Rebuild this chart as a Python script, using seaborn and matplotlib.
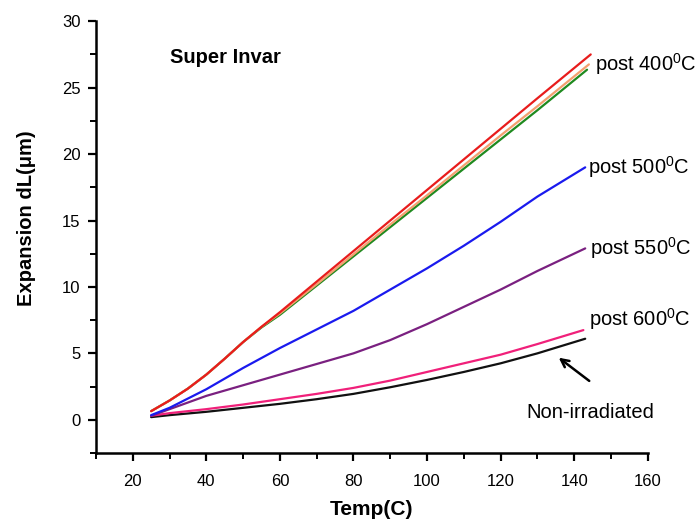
import numpy as np
import pandas as pd
import matplotlib
matplotlib.use("Agg")
import matplotlib.pyplot as plt
import seaborn as sns
from matplotlib.ticker import MultipleLocator

sns.set_style("white")
plt.rcParams['font.family'] = ['Liberation Sans', 'DejaVu Sans']
plt.rcParams['mathtext.fontset'] = 'custom'
plt.rcParams['mathtext.rm'] = 'Liberation Sans'
plt.rcParams['text.color'] = 'black'
plt.rcParams['axes.labelcolor'] = 'black'
plt.rcParams['xtick.color'] = 'black'
plt.rcParams['ytick.color'] = 'black'

# ---- data ----
x_non = [25, 30, 40, 50, 60, 70, 80, 90, 100, 110, 120, 130, 143]
y_non = [0.2, 0.35, 0.6, 0.9, 1.2, 1.55, 1.95, 2.45, 3.0, 3.6, 4.25, 5.0, 6.1]

x_600 = [25, 30, 40, 50, 60, 70, 80, 90, 100, 110, 120, 130, 142.5]
y_600 = [0.3, 0.5, 0.8, 1.15, 1.55, 1.95, 2.4, 2.95, 3.6, 4.25, 4.9, 5.7, 6.75]

x_550 = [25, 30, 40, 50, 60, 70, 80, 90, 100, 110, 120, 130, 143]
y_550 = [0.3, 0.8, 1.8, 2.6, 3.4, 4.2, 5.0, 6.0, 7.2, 8.5, 9.8, 11.2, 12.9]

x_500 = [25, 30, 40, 50, 60, 70, 80, 90, 100, 110, 120, 130, 143]
y_500 = [0.35, 0.9, 2.3, 3.9, 5.4, 6.8, 8.2, 9.8, 11.4, 13.1, 14.9, 16.8, 19.0]

x_400a = [25, 30, 35, 40, 45, 50, 55, 60, 70, 80, 90, 100, 110, 120, 130, 143.5]
y_400a = [0.65, 1.45, 2.35, 3.4, 4.6, 5.85, 6.95, 7.9, 10.1, 12.3, 14.5, 16.7, 18.9, 21.1, 23.3, 26.35]

x_400b = [25, 30, 35, 40, 45, 50, 55, 60, 70, 80, 90, 100, 110, 120, 130, 144]
y_400b = [0.65, 1.45, 2.35, 3.4, 4.6, 5.85, 7.0, 8.0, 10.2, 12.45, 14.7, 16.9, 19.15, 21.4, 23.6, 26.75]

x_400c = [25, 30, 35, 40, 45, 50, 55, 60, 70, 80, 90, 100, 110, 120, 130, 144.5]
y_400c = [0.65, 1.45, 2.35, 3.4, 4.6, 5.85, 7.0, 8.1, 10.4, 12.7, 15.0, 17.3, 19.6, 21.9, 24.2, 27.5]

series_names = ["Non-irradiated", "post 600", "post 550", "post 500",
                "post 400 a", "post 400 b", "post 400 c"]
series_x = [x_non, x_600, x_550, x_500, x_400a, x_400b, x_400c]
series_y = [y_non, y_600, y_550, y_500, y_400a, y_400b, y_400c]
colors = ["#111111", "#f0207a", "#7a2080", "#1a1aee", "#1f8a1f", "#f4a070", "#e81c1c"]

x_ticks = [20, 40, 60, 80, 100, 120, 140, 160]
y_ticks = [0, 5, 10, 15, 20, 25, 30]

frames = []
for name, xs, ys in zip(series_names, series_x, series_y):
    frames.append(pd.DataFrame({"T": xs, "dL": ys, "series": name}))
df = pd.concat(frames, ignore_index=True)

fig = plt.figure(figsize=(6.98, 5.24), dpi=100)
ax = fig.add_axes([0.1375, 0.1355, 0.7905, 0.824])

sns.lineplot(data=df, x="T", y="dL", hue="series", hue_order=series_names,
             palette=dict(zip(series_names, colors)), estimator=None, sort=False,
             linewidth=1.6, legend=False, ax=ax)

ax.set_xlim(10, 160)
ax.set_ylim(-2.5, 30)
ax.set_xticks(x_ticks)
ax.set_yticks(y_ticks)
ax.xaxis.set_minor_locator(MultipleLocator(10))
ax.yaxis.set_minor_locator(MultipleLocator(2.5))
for s in ["top", "right"]:
    ax.spines[s].set_visible(False)
for s in ["left", "bottom"]:
    ax.spines[s].set_linewidth(1.8)
    ax.spines[s].set_color("black")
ax.tick_params(axis="both", which="major", direction="out", length=6, width=1.6,
               labelsize=12, colors="black", bottom=True, left=True)
ax.tick_params(axis="x", which="major", pad=9)
ax.tick_params(axis="y", which="major", pad=5)
ax.tick_params(axis="both", which="minor", direction="out", length=4, width=1.4,
               bottom=True, left=True)

ax.set_xlabel("Temp(C)", fontsize=15, fontweight="bold", labelpad=8)
ax.set_ylabel("Expansion dL(\u03bcm)", fontsize=14.5, fontweight="bold", labelpad=19, y=0.544)

tfs = 14.5
ax.text(30.2, 27.3, "Super Invar", fontsize=14.5, fontweight="bold", va="center")
ax.text(145.6, 26.8, r"post 400$^{0}$C", fontsize=tfs, va="center")
ax.text(143.8, 19.0, r"post 500$^{0}$C", fontsize=tfs, va="center")
ax.text(144.3, 12.9, r"post 550$^{0}$C", fontsize=tfs, va="center")
ax.text(144.0, 7.6, r"post 600$^{0}$C", fontsize=tfs, va="center")
ax.text(127.0, 0.55, "Non-irradiated", fontsize=tfs, va="center")
ax.annotate("", xy=(135.2, 4.8), xytext=(144.7, 2.8),
            arrowprops=dict(arrowstyle="->", color="black", lw=1.8,
                            mutation_scale=14))

fig.savefig("out.png", dpi=100)
